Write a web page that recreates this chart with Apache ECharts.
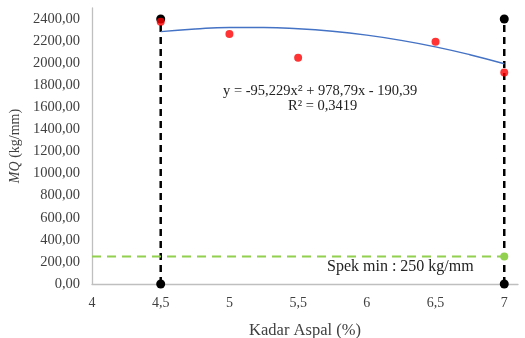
<!DOCTYPE html>
<html>
<head>
<meta charset="utf-8">
<script src="https://cdn.jsdelivr.net/npm/echarts@6/dist/echarts.min.js"></script>
<style>
    html, body { margin: 0; padding: 0; background: #fff; }
    #chart { width: 525px; height: 338px; }
</style>
</head>
<body>
<div id="chart"></div>
<script>
// data
const kadarAspal = [4.5, 5, 5.5, 6.5, 7];
const nilaiMQ = [2375, 2265, 2050, 2195, 1915];

// polynomial trendline as drawn
const trendX = [4.5, 4.75, 5, 5.25, 5.5, 5.75, 6, 6.25, 6.5, 6.75, 7];
const trendY = [2286, 2310, 2323, 2323, 2312, 2289, 2254, 2207, 2148, 2077, 1995];

// vertical limits and spec line
const batasX = [4.5, 7];
const batasY = [0, 2400];
const spekMin = 250;
const spekX = [4, 7];

const xTicks = [4, 4.5, 5, 5.5, 6, 6.5, 7];
const yTicks = [0, 200, 400, 600, 800, 1000, 1200, 1400, 1600, 1800, 2000, 2200, 2400];

const chartInit = () => {
    var chartDom = document.getElementById('chart');
    var myChart = echarts.init(chartDom);
    var option;

    var font = 'Liberation Serif';

    var vertical = batasX.map(function (x) {
        return {
            type: 'line',
            data: batasY.map(function (y) { return [x, y]; }),
            symbol: 'circle',
            symbolSize: 9,
            itemStyle: { color: '#000' },
            lineStyle: { color: '#000', width: 2.5, type: [7, 5] },
            z: 2
        };
    });

    option = {
        animation: false,
        textStyle: { fontFamily: font },
        grid: { left: 92, right: 7, top: 8, bottom: 54, outerBoundsMode: 'none', containLabel: false },
        xAxis: {
            type: 'value',
            min: 4,
            max: 7.1,
            interval: 0.5,
            name: 'Kadar Aspal (%)',
            nameLocation: 'middle',
            nameGap: 38,
            nameTextStyle: { fontFamily: font, fontSize: 16.5, color: '#404040' },
            axisLine: { lineStyle: { color: '#bfbfbf', width: 1.3 } },
            axisTick: { show: false },
            splitLine: { show: false },
            axisLabel: {
                fontFamily: font, fontSize: 14, color: '#404040', margin: 12,
                formatter: function (v) {
                    if (xTicks.indexOf(v) < 0) return '';
                    return String(v).replace('.', ',');
                }
            }
        },
        yAxis: {
            type: 'value',
            min: 0,
            max: 2500,
            interval: 100,
            name: '{i|MQ} (kg/mm)',
            nameLocation: 'middle',
            nameRotate: 90,
            nameGap: 68,
            nameTextStyle: {
                fontFamily: font, fontSize: 14, color: '#404040',
                rich: { i: { fontFamily: font, fontSize: 14, fontStyle: 'italic', color: '#404040' } }
            },
            axisLine: { show: true, lineStyle: { color: '#bfbfbf', width: 1.3 } },
            axisTick: { show: false },
            splitLine: { show: false },
            axisLabel: {
                fontFamily: font, fontSize: 14.5, color: '#404040', margin: 12,
                formatter: function (v) {
                    if (yTicks.indexOf(v) < 0) return '';
                    return v.toFixed(2).replace('.', ',');
                }
            }
        },
        graphic: [
            {
                type: 'text', left: 223, top: 84,
                style: { text: 'y = -95,229x{s|2} + 978,79x - 190,39', font: '14.5px "Liberation Serif"', fill: '#222',
                    rich: { s: { fontSize: 9, verticalAlign: 'top', padding: [0, 0, 6, 0] } } }
            },
            {
                type: 'text', left: 288, top: 99,
                style: { text: 'R² = 0,3419', font: '14.5px "Liberation Serif"', fill: '#222' }
            },
            {
                type: 'text', left: 327, top: 259,
                style: { text: 'Spek min : 250 kg/mm', font: '16px "Liberation Serif"', fill: '#222' }
            }
        ],
        series: vertical.concat([
            {
                type: 'line',
                data: spekX.map(function (x, i) {
                    return i === 0 ? { value: [x, spekMin], symbol: 'none' } : [x, spekMin];
                }),
                symbol: 'circle',
                symbolSize: 8,
                itemStyle: { color: '#92d050' },
                lineStyle: { color: '#92d050', width: 2, type: [9, 6] },
                z: 2
            },
            {
                type: 'line',
                data: trendX.map(function (x, i) { return [x, trendY[i]]; }),
                smooth: true,
                showSymbol: false,
                lineStyle: { color: '#4472c4', width: 1.4 },
                z: 3
            },
            {
                type: 'scatter',
                data: kadarAspal.map(function (x, i) { return [x, nilaiMQ[i]]; }),
                symbolSize: 8,
                itemStyle: { color: '#ff0000' },
                z: 4
            }
        ])
    };

    option && myChart.setOption(option);
};

chartInit();
</script>
</body>
</html>
